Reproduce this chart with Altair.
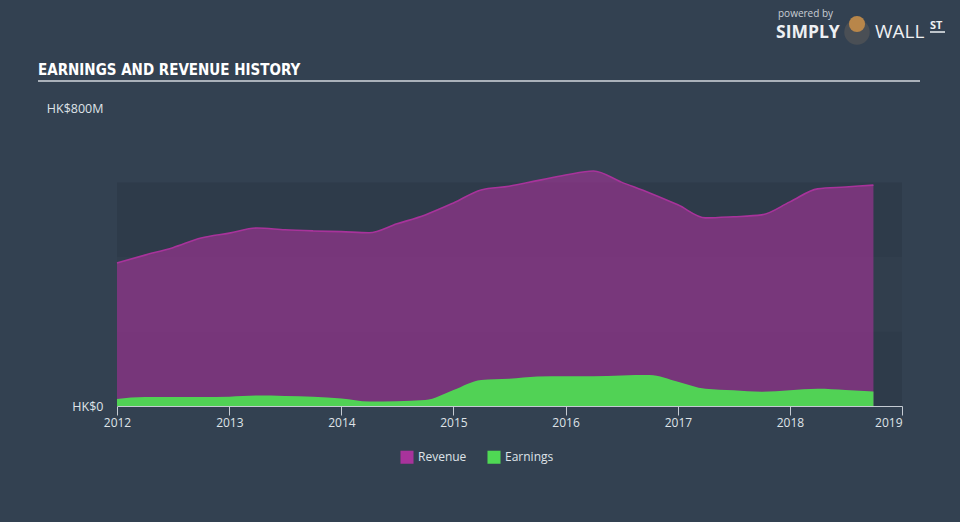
import altair as alt
import pandas as pd

# ---- data (HK$ millions) ----
dates = ["2012-01-01", "2012-04-01", "2012-07-01", "2012-10-01",
         "2013-01-01", "2013-04-01", "2013-07-01", "2013-10-01",
         "2014-01-01", "2014-04-01", "2014-07-01", "2014-10-01",
         "2015-01-01", "2015-04-01", "2015-07-01", "2015-10-01",
         "2016-01-01", "2016-04-01", "2016-07-01", "2016-10-01",
         "2017-01-01", "2017-04-01", "2017-07-01", "2017-10-01",
         "2018-01-01", "2018-04-01", "2018-07-01", "2018-09-30"]
revenue = [384, 405, 425, 451, 464, 478, 473, 470, 468, 465, 489, 513,
           545, 580, 590, 605, 620, 631, 601, 572, 540, 505, 508, 513,
           548, 583, 588, 593]
earnings = [19, 24, 24, 24, 25, 28, 27, 25, 20, 12, 13, 16,
            43, 70, 73, 79, 80, 80, 82, 83, 65, 46, 42, 38,
            42, 46, 43, 39]
series_names = ["Revenue", "Earnings"]
series_colors = ["#a8339b", "#4fd854"]
year_ticks = ["2012-01-01", "2013-01-01", "2014-01-01", "2015-01-01",
              "2016-01-01", "2017-01-01", "2018-01-01", "2019-01-01"]
band_low = [0, 400]
band_high = [200, 600]
mid_band_low = [200]
mid_band_high = [400]

W, H = 785, 298
BG = "#334151"
FONT = "Open Sans"

df = pd.DataFrame({
    "date": dates * 2,
    "value": revenue + earnings,
    "series": ["Revenue"] * len(dates) + ["Earnings"] * len(dates),
})

color = alt.Color(
    "series:N",
    scale=alt.Scale(domain=series_names, range=series_colors),
    legend=alt.Legend(
        title=None, orient="none", legendX=283, legendY=342,
        direction="horizontal", symbolType="square", symbolSize=170,
        symbolOpacity=1, symbolStrokeWidth=0, labelColor="#dfe3e8",
        labelFont=FONT, labelFontSize=12, columnPadding=20, symbolOffset=0,
    ),
)

x = alt.X(
    "date:T",
    scale=alt.Scale(domain=["2012-01-01", "2019-01-01"]),
    axis=alt.Axis(
        title=None, values=year_ticks, format="%Y", grid=False,
        domainColor="#c5cbd3", tickColor="#c5cbd3", tickSize=9,
        labelColor="#dfe3e8", labelFont=FONT, labelFontSize=12,
        labelPadding=2,
        labelAlign={"condition": {"test": "year(datum.value) == 2019", "value": "right"},
                    "value": "center"},
    ),
)
y = alt.Y(
    "value:Q",
    scale=alt.Scale(domain=[0, 800], nice=False),
    axis=alt.Axis(
        title=None, values=[0, 800], grid=False, domain=False, ticks=False,
        labelExpr="datum.value == 0 ? 'HK$0' : 'HK$800M'",
        labelColor="#dfe3e8", labelFont=FONT, labelFontSize=12.5,
        labelPadding=14,
    ),
)

bands = alt.Chart(pd.DataFrame({"lo": band_low, "hi": band_high})).mark_rect(
    color="#2e3b4a").encode(
    x=alt.value(0), x2=alt.value(W),
    y=alt.Y("lo:Q", scale=alt.Scale(domain=[0, 800], nice=False)),
    y2="hi:Q",
)
mid = alt.Chart(pd.DataFrame({"lo": mid_band_low, "hi": mid_band_high})).mark_rect(
    color="#313e4d").encode(
    x=alt.value(0), x2=alt.value(W),
    y=alt.Y("lo:Q", scale=alt.Scale(domain=[0, 800], nice=False)),
    y2="hi:Q",
)

rev = alt.Chart(df).transform_filter("datum.series == 'Revenue'").mark_area(
    interpolate="monotone", fillOpacity=0.6,
    line=alt.OverlayMarkDef(strokeWidth=1.6),
).encode(x=x, y=y, color=color)

earn = alt.Chart(df).transform_filter("datum.series == 'Earnings'").mark_area(
    interpolate="monotone", fillOpacity=0.97,
).encode(x=x, y=y, color=color)

one = pd.DataFrame({"t": ["EARNINGS AND REVENUE HISTORY"]})
title = alt.Chart(one).mark_text(
    align="left", baseline="alphabetic",
    font="DejaVu Sans Condensed, Liberation Sans Narrow, Roboto Condensed",
    fontWeight="bold", fontSize=15, color="#ffffff",
).encode(x=alt.value(-79), y=alt.value(-33), text="t:N")
underline = alt.Chart(one).mark_rule(color="#aab1ba", strokeWidth=2).encode(
    x=alt.value(-79), x2=alt.value(803), y=alt.value(-27))

pw = alt.Chart(pd.DataFrame({"t": ["powered by"]})).mark_text(
    align="left", baseline="alphabetic", font=FONT, fontSize=10, color="#c9ced5",
).encode(x=alt.value(661), y=alt.value(-91), text="t:N")
simply = alt.Chart(pd.DataFrame({"t": ["SIMPLY"]})).mark_text(
    align="left", baseline="alphabetic", font=FONT, fontSize=17.5, fontWeight="bold",
    color="#eef0f3",
).encode(x=alt.value(659), y=alt.value(-70), text="t:N")
wall = alt.Chart(pd.DataFrame({"t": ["WALL"]})).mark_text(
    align="left", baseline="alphabetic", font=FONT, fontSize=19, fontWeight="normal",
    color="#eef0f3",
).encode(x=alt.value(758), y=alt.value(-70), text="t:N")
st = alt.Chart(pd.DataFrame({"t": ["ST"]})).mark_text(
    align="left", baseline="alphabetic", font=FONT, fontSize=11, fontWeight="bold",
    color="#eef0f3",
).encode(x=alt.value(813), y=alt.value(-79), text="t:N")
st_line = alt.Chart(one).mark_rule(color="#eef0f3", strokeWidth=1.5).encode(
    x=alt.value(813), x2=alt.value(828), y=alt.value(-76))
bull = alt.Chart(one).mark_point(filled=True, color="#4a4f55", size=650, opacity=1).encode(
    x=alt.value(740), y=alt.value(-76))
bull_face = alt.Chart(one).mark_point(filled=True, color="#b8864a", size=260, opacity=1).encode(
    x=alt.value(740), y=alt.value(-84))

chart = alt.layer(
    bands, mid, rev, earn, title, underline, pw, simply, wall, st, st_line, bull, bull_face
).properties(
    width=W, height=H,
    background=BG,
    padding={"left": 117, "top": 108, "right": 58, "bottom": 116},
    autosize=alt.AutoSizeParams(type="none"),
).configure_view(stroke=None)

chart.save("out.html", embed_options={"renderer": "svg", "actions": False})
